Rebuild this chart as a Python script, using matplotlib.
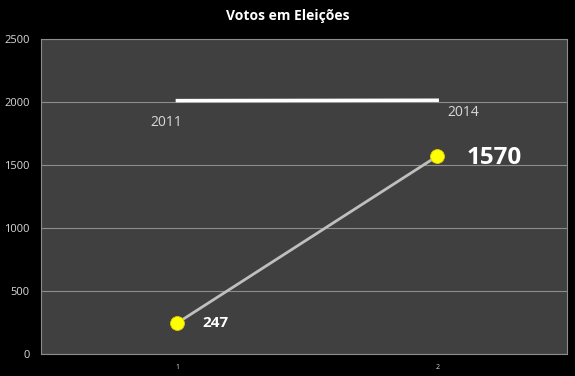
import matplotlib.pyplot as plt

# Dados do gráfico
posicoes = [1, 2]
anos = [2011, 2014]
votos = [247, 1570]
yticks = [0, 500, 1000, 1500, 2000, 2500]

plt.rcParams['font.family'] = ['Open Sans', 'DejaVu Sans']

fig = plt.figure(figsize=(5.75, 3.76), dpi=100, facecolor='black')
ax = fig.add_axes([0.0713, 0.0585, 0.915, 0.8378])
ax.set_facecolor('#404040')

# Linha dos anos (branca)
ax.plot(posicoes, anos, color='white', linewidth=2.5, zorder=3)
ax.annotate(str(anos[0]), (posicoes[0], anos[0]), xytext=(-8, -16), textcoords='offset points',
            ha='center', va='center', color='#d9d9d9', fontsize=10)
ax.annotate(str(anos[1]), (posicoes[1], anos[1]), xytext=(19, -9), textcoords='offset points',
            ha='center', va='center', color='#d9d9d9', fontsize=10)

# Linha dos votos
ax.plot(posicoes, votos, color='#bfbfbf', linewidth=2, zorder=3)
ax.plot(posicoes, votos, linestyle='none', marker='o', markersize=10,
        markerfacecolor='#ffff00', markeredgecolor='#e0d000', markeredgewidth=0.6, zorder=4)
ax.annotate(str(votos[0]), (posicoes[0], votos[0]), xytext=(18, 0), textcoords='offset points',
            ha='left', va='center', color='white', fontsize=11, fontweight='bold')
ax.annotate(str(votos[1]), (posicoes[1], votos[1]), xytext=(21, -1), textcoords='offset points',
            ha='left', va='center', color='white', fontsize=17.5, fontweight='bold')

ax.set_xlim(0.475, 2.5)
ax.set_ylim(0, 2500)
ax.set_yticks(yticks)
ax.set_xticks(posicoes)
ax.tick_params(axis='y', colors='#d9d9d9', labelsize=8, length=0, pad=8)
ax.tick_params(axis='x', colors='#d9d9d9', labelsize=5, length=0, pad=7)
ax.grid(axis='y', color='#8c8c8c', linewidth=0.8)
ax.set_axisbelow(True)
for lado in ax.spines.values():
    lado.set_color('#8c8c8c')
    lado.set_linewidth(0.8)

fig.text(0.5, 0.957, 'Votos em Eleições', ha='center', va='center', color='white',
         fontsize=10, fontweight='bold')

plt.savefig('out.png', dpi=100, facecolor='black')
